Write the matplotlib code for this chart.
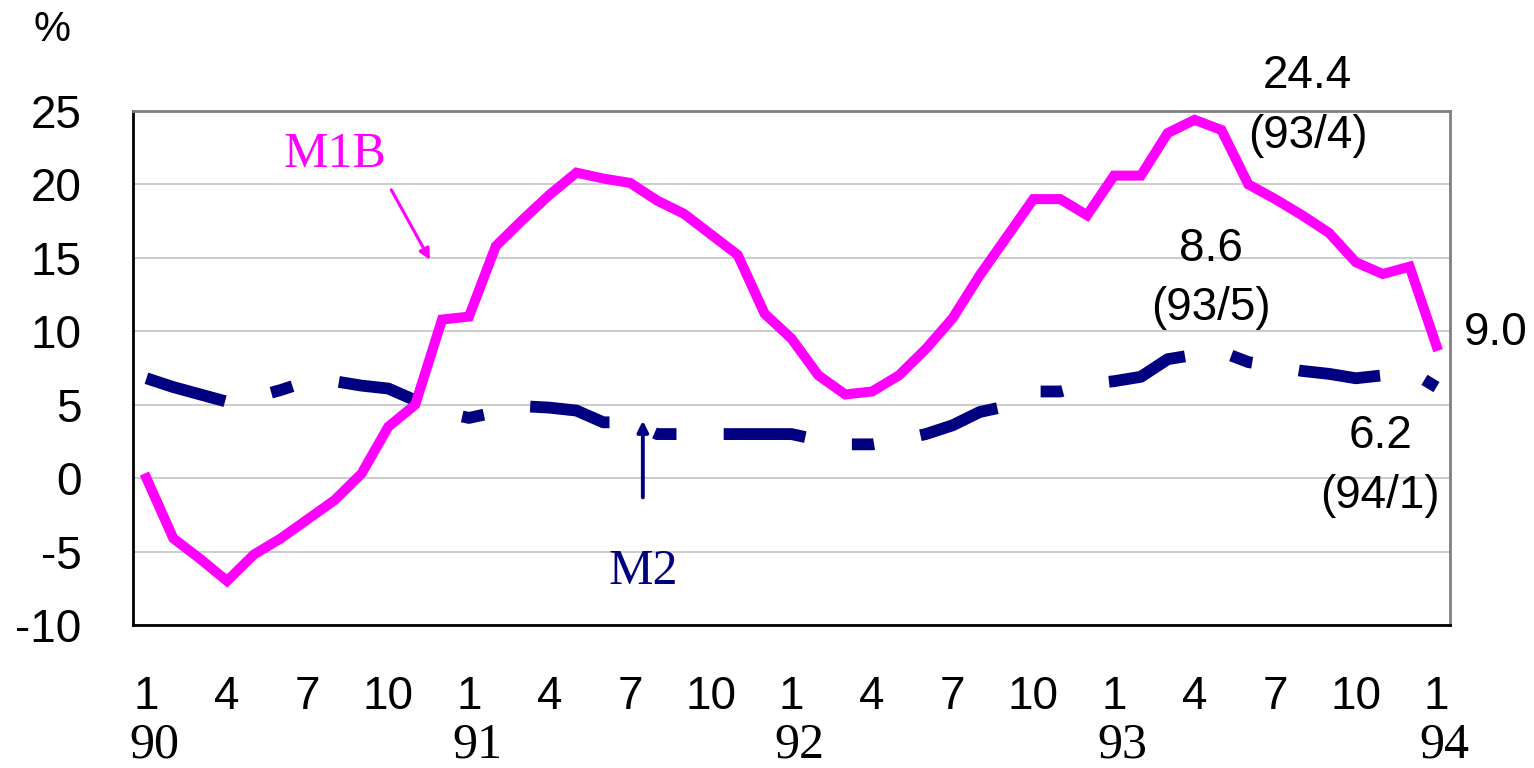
import numpy as np
import matplotlib.pyplot as plt
import matplotlib.transforms as mtransforms

plt.rcParams['font.family'] = ['Liberation Sans', 'DejaVu Sans']
plt.rcParams['lines.scale_dashes'] = False

# monthly growth rates (%), 1990/1 .. 1994/1
m1b = [0.0, -4.1, -5.5, -7.0, -5.2, -4.1, -2.8, -1.5, 0.3, 3.5, 5.0, 10.8,
       11.0, 15.8, 17.6, 19.3, 20.8, 20.4, 20.1, 18.9, 18.0, 16.6, 15.2, 11.2,
       9.5, 7.0, 5.7, 5.9, 7.0, 8.8, 10.9, 13.8, 16.4, 19.0, 19.0, 17.9,
       20.6, 20.6, 23.5, 24.4, 23.7, 20.0, 19.0, 17.9, 16.7, 14.7, 13.9, 14.4,
       9.0]
m2 = [6.8, 6.2, 5.7, 5.2, 5.5, 6.0, 6.6, 6.6, 6.3, 6.1, 5.3, 4.5,
      4.1, 4.5, 4.9, 4.8, 4.6, 3.8, 3.8, 3.0, 3.0, 3.0, 3.0, 3.0,
      3.0, 2.6, 2.3, 2.3, 2.6, 3.0, 3.6, 4.5, 4.9, 5.9, 5.9, 6.4,
      6.6, 6.9, 8.1, 8.4, 8.6, 7.9, 7.6, 7.3, 7.1, 6.8, 7.0, 7.3,
      6.2]
month_labels = ['1', '4', '7', '10'] * 4 + ['1']
year_labels = ['90', '91', '92', '93', '94']
y_ticks = [-10, -5, 0, 5, 10, 15, 20, 25]

x = np.arange(len(m1b))

fig = plt.figure(figsize=(15.34, 7.68), dpi=100)
ax = fig.add_axes([0.0867, 0.1862, 0.8585, 0.6693])

ax.plot(x, m1b, color='#ff00ff', lw=7.2, solid_joinstyle='miter', zorder=3)
ax.plot(x, m2, color='#000080', lw=8.5, dashes=(59, 34, 16, 34),
        dash_capstyle='butt', zorder=2)

ax.set_xlim(-0.5, len(m1b) - 0.5)
ax.set_ylim(-10, 25)
ax.set_yticks(y_ticks)
ax.set_yticklabels([str(v) for v in y_ticks], fontsize=33)
ax.set_xticks(np.arange(0, len(m1b), 3))
ax.set_xticklabels(month_labels, fontsize=33)
ax.tick_params(axis='y', length=0, pad=37)
ax.tick_params(axis='x', length=0, pad=36)
ax.grid(axis='y', color='#c8c8c8', lw=1.3)
ax.set_axisbelow(True)
for s in ['top', 'right']:
    ax.spines[s].set_color('#808080')
    ax.spines[s].set_linewidth(2)
for s in ['left', 'bottom']:
    ax.spines[s].set_color('black')
    ax.spines[s].set_linewidth(2)

trans = mtransforms.blended_transform_factory(ax.transData, fig.transFigure)
for i, yl in enumerate(year_labels):
    ax.text(i * 12 + 0.3, 1 - 745 / 768, yl, transform=trans, ha='center',
            va='center', fontsize=36, family='Liberation Serif')

fig.text(52 / 1534, 1 - 30 / 768, '%', fontsize=30, ha='center', va='center')

# series labels
ax.text(7.0, 22.0, 'M1B', color='#ff00ff', fontsize=36, ha='center',
        va='center', family='Liberation Serif')
ax.annotate('', xy=(10.6, 14.7), xytext=(9.06, 19.8),
            arrowprops=dict(arrowstyle='-|>', color='#ff00ff', lw=2.2,
                            mutation_scale=16))
ax.text(18.5, -6.4, 'M2', color='#000080', fontsize=36, ha='center',
        va='center', family='Liberation Serif')
ax.annotate('', xy=(18.47, 4.1), xytext=(18.47, -1.5),
            arrowprops=dict(arrowstyle='-|>', color='#000080', lw=2.8,
                            mutation_scale=16))

# value labels
notes = [(43.2, 27.4, '24.4'), (43.2, 23.3, '(93/4)'),
         (39.6, 15.6, '8.6'), (39.6, 11.6, '(93/5)'),
         (50.2, 9.9, '9.0'),
         (45.9, 2.9, '6.2'), (45.9, -1.2, '(94/1)')]
for nx, ny, s in notes:
    ax.text(nx, ny, s, fontsize=33, ha='center', va='center', clip_on=False)

fig.savefig('out.png', dpi=100)
